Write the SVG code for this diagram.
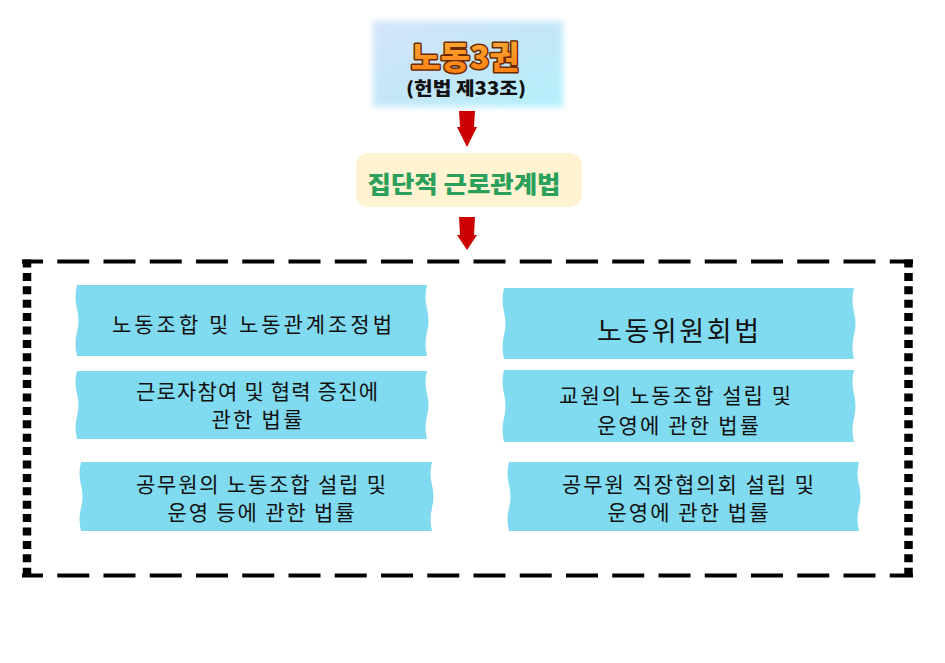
<svg xmlns="http://www.w3.org/2000/svg" width="945" height="663" viewBox="0 0 945 663">
<defs>
<linearGradient id="skyGrad" x1="0" y1="0" x2="1" y2="1">
<stop offset="0" stop-color="#d4e4fb"/>
<stop offset="0.5" stop-color="#c4e6f8"/>
<stop offset="1" stop-color="#b2f0fb"/>
</linearGradient>
<linearGradient id="orangeGrad" x1="0" y1="0" x2="0" y2="1">
<stop offset="0" stop-color="#ffb23a"/>
<stop offset="1" stop-color="#ff7a10"/>
</linearGradient>
<filter id="soft" x="-10%" y="-15%" width="120%" height="130%">
<feGaussianBlur stdDeviation="3"/>
</filter>
</defs>
<style>
.law{fill:#80daf0}
.lt{font-family:"Noto Sans CJK KR","Noto Sans",sans-serif;font-size:21px;fill:#111;text-anchor:middle}
.arrow{fill:#cc0000}
.hd{fill:none;stroke:#000;stroke-width:4;stroke-dasharray:32 14.25;stroke-dashoffset:11}
.vd{fill:none;stroke:#000;stroke-width:8.5;stroke-dasharray:8 5.4}
</style>
<rect width="945" height="663" fill="#ffffff"/>

<g id="rights">
<rect x="373" y="21" width="190" height="86" fill="url(#skyGrad)" filter="url(#soft)"/>
<text x="465" y="69" text-anchor="middle" font-family="Noto Sans CJK KR, sans-serif" font-weight="900" font-size="32" textLength="108" lengthAdjust="spacingAndGlyphs" fill="url(#orangeGrad)" stroke="#6b2a00" stroke-width="3" stroke-linejoin="round" paint-order="stroke">노동3권</text>
<text x="466" y="95" text-anchor="middle" font-family="Noto Sans CJK KR, sans-serif" font-weight="900" font-size="18" textLength="120" lengthAdjust="spacingAndGlyphs" fill="#111">(헌법 제33조)</text>
</g>

<g id="collective">
<rect x="356" y="153" width="226" height="54" rx="13" fill="#fff3d2"/>
<text x="464" y="193" text-anchor="middle" font-family="Noto Sans CJK KR, sans-serif" font-weight="900" font-size="24" textLength="193" lengthAdjust="spacingAndGlyphs" fill="#2ba05a">집단적 근로관계법</text>
</g>

<g id="connectors">
<path class="arrow" d="M459 111 L475 111 L474 127 L477 127 L467 147 L457 127 L460 127 Z"/>
<path class="arrow" d="M459 217 L475 217 L474 235 L477 235 L467 250 L457 235 L460 235 Z"/>
</g>

<g id="frame">
<path class="hd" d="M22 261.5 H913"/>
<path class="hd" d="M22 575.5 H913"/>
<path class="vd" d="M27 259.5 V579"/>
<path class="vd" d="M908.5 259.5 V579"/>
</g>

<g id="law-l1">
<path class="law" d="M77 285 H427 Q424 297 427 309 Q430 321 427 332 Q424 344 427 356 H77 Q74 344 77 332 Q80 321 77 309 Q74 297 77 285 Z"/>
<text class="lt" x="252" y="332" textLength="280" lengthAdjust="spacing">노동조합 및 노동관계조정법</text>
</g>
<g id="law-l2">
<path class="law" d="M77 371 H427 Q424 382 427 394 Q430 405 427 416 Q424 428 427 439 H77 Q74 428 77 416 Q80 405 77 394 Q74 382 77 371 Z"/>
<text class="lt" x="257" y="399" textLength="242" lengthAdjust="spacing">근로자참여 및 협력 증진에</text>
<text class="lt" x="257" y="427" textLength="91" lengthAdjust="spacing">관한 법률</text>
</g>
<g id="law-l3">
<path class="law" d="M81 462 H432 Q429 474 432 485 Q435 497 432 508 Q429 520 432 531 H81 Q78 520 81 508 Q84 497 81 485 Q78 474 81 462 Z"/>
<text class="lt" x="261" y="492" textLength="250" lengthAdjust="spacing">공무원의 노동조합 설립 및</text>
<text class="lt" x="261" y="520" textLength="187" lengthAdjust="spacing">운영 등에 관한 법률</text>
</g>
<g id="law-r1">
<path class="law" d="M504 288 H854 Q851 300 854 312 Q857 324 854 335 Q851 347 854 359 H504 Q501 347 504 335 Q507 324 504 312 Q501 300 504 288 Z"/>
<text class="lt" x="678" y="341" style="font-size:27px" textLength="162" lengthAdjust="spacing">노동위원회법</text>
</g>
<g id="law-r2">
<path class="law" d="M504 370 H854 Q851 382 854 394 Q857 406 854 418 Q851 430 854 442 H504 Q501 430 504 418 Q507 406 504 394 Q501 382 504 370 Z"/>
<text class="lt" x="675" y="403" textLength="232" lengthAdjust="spacing">교원의 노동조합 설립 및</text>
<text class="lt" x="678" y="433" textLength="162" lengthAdjust="spacing">운영에 관한 법률</text>
</g>
<g id="law-r3">
<path class="law" d="M509 462 H859 Q856 474 859 485 Q862 497 859 508 Q856 520 859 531 H509 Q506 520 509 508 Q512 497 509 485 Q506 474 509 462 Z"/>
<text class="lt" x="688" y="492" textLength="252" lengthAdjust="spacing">공무원 직장협의회 설립 및</text>
<text class="lt" x="688" y="520" textLength="161" lengthAdjust="spacing">운영에 관한 법률</text>
</g>
</svg>
